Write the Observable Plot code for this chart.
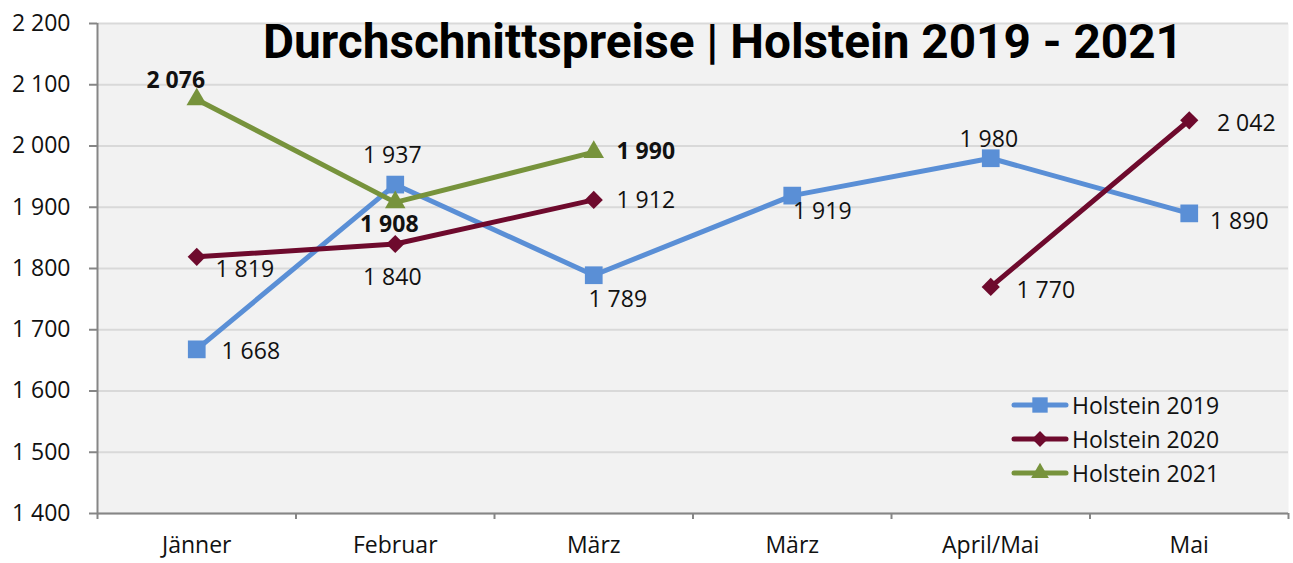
<!DOCTYPE html>
<html><head><meta charset="utf-8">
<script src="https://cdn.jsdelivr.net/npm/d3@7"></script>
<script src="https://cdn.jsdelivr.net/npm/@observablehq/plot@0.6"></script>
<style>
body{margin:0;background:#fff;}
#chart{position:relative;width:1293px;height:563px;font-family:"Open Sans","Noto Sans",sans-serif;}
#legend{position:absolute;left:1010px;top:388px;}
.item{display:flex;align-items:center;height:34px;font-size:23px;color:#111;}
.item svg{margin-right:2px;}
</style></head>
<body><div id="chart"></div>
<script>
const title = "Durchschnittspreise | Holstein 2019 - 2021";
const categories = ["Jänner", "Februar", "März", "März", "April/Mai", "Mai"];
const seriesNames = ["Holstein 2019", "Holstein 2020", "Holstein 2021"];
const values2019 = [1668, 1937, 1789, 1919, 1980, 1890];
const values2020 = [1819, 1840, 1912, null, 1770, 2042];
const values2021 = [2076, 1908, 1990, null, null, null];
const yTicks = [1400, 1500, 1600, 1700, 1800, 1900, 2000, 2100, 2200];

// styling (not data)
const colors = ["#5a8fd6", "#6e0a2d", "#77933c"];
const symbols = ["square", "diamond2", "triangle"];
const radii = [10, 8.2, 7.6];
const boldLabels = [false, false, true];
// label offsets [dx, dy] per series per point
const labelOffsets = [
  [[54, 2], [-3, -29], [24, 24], [30, 16], [-2, -19], [50, 8]],
  [[48, 13], [-3, 34], [52, 1], null, [55, 4], [57, 3]],
  [[-21, -19], [-6, 22], [52, -1], null, null, null]
];

const fmt = d => d3.format(",")(d).replace(/,/g, " ");
const allValues = [values2019, values2020, values2021];
const rows = allValues.map((vals, s) => categories.map((c, i) => ({series: seriesNames[s], s, i, x: i + 0.5, cat: c, y: vals[i]})));

const marks = [
  Plot.frame({fill: "#f2f2f2", stroke: null}),
  Plot.gridY(yTicks, {stroke: "#d9d9d9", strokeOpacity: 1, strokeWidth: 2}),
  Plot.axisY(yTicks, {tickFormat: fmt, tickSize: 8, tickPadding: 19, fontSize: 23, stroke: "#868686", strokeWidth: 2, label: null}),
  Plot.axisX(d3.range(0, 7), {tickSize: 6, tickFormat: () => "", stroke: "#868686", strokeWidth: 2, label: null}),
  Plot.axisX(d3.range(0, 6).map(i => i + 0.5), {tickSize: 0, tickPadding: 23, tickFormat: v => categories[Math.floor(v)], fontSize: 23, label: null}),
  Plot.ruleX([0], {stroke: "#868686", strokeWidth: 2}),
  Plot.ruleY([1400], {stroke: "#868686", strokeWidth: 2})
];

rows.forEach((data, s) => {
  marks.push(Plot.line(data, {x: "x", y: "y", stroke: colors[s], strokeWidth: 5}));
});
rows.forEach((data, s) => {
  marks.push(Plot.dot(data.filter(d => d.y != null), {x: "x", y: "y", fill: colors[s], symbol: () => symbols[s], r: radii[s], stroke: null}));
});
rows.forEach((data, s) => {
  data.forEach((d, i) => {
    if (d.y == null) return;
    const [dx, dy] = labelOffsets[s][i];
    marks.push(Plot.text([d], {x: "x", y: "y", text: v => fmt(v.y), dx, dy, fontSize: 23, fill: "#111", fontWeight: boldLabels[s] ? "bold" : "normal"}));
  });
});
marks.push(Plot.text([title], {frameAnchor: "top", text: d => d, dx: 30, dy: 0, fontSize: 48, fontWeight: "bold", fill: "#000", className: "ttl", fontFamily: "Roboto, sans-serif"}));

const chart = Plot.plot({
  width: 1293, height: 563,
  marginLeft: 97, marginRight: 5, marginTop: 23, marginBottom: 50,
  style: {fontFamily: "'Open Sans', 'Noto Sans', sans-serif", background: "#fff", color: "#111"},
  x: {domain: [0, 6]},
  y: {domain: [1400, 2200]},
  marks
});
document.getElementById("chart").appendChild(chart);

// condense title like the original font
const t = chart.querySelector(".ttl text");
if (t) { t.setAttribute("textLength", 920); t.setAttribute("lengthAdjust", "spacingAndGlyphs"); }

// legend
const legend = document.createElement("div");
legend.id = "legend";
seriesNames.forEach((name, s) => {
  const item = document.createElement("div");
  item.className = "item";
  const symType = [d3.symbolSquare, d3.symbolDiamond2, d3.symbolTriangle][s];
  const size = Math.PI * radii[s] * radii[s] * 0.75;
  const path = d3.symbol(symType, size)();
  item.innerHTML = `<svg width="60" height="22"><line x1="4" x2="56" y1="11" y2="11" stroke="${colors[s]}" stroke-width="5" stroke-linecap="round"/><path d="${path}" transform="translate(30,11)" fill="${colors[s]}"/></svg><span>${name}</span>`;
  legend.appendChild(item);
});
document.getElementById("chart").appendChild(legend);
</script>
</body></html>
